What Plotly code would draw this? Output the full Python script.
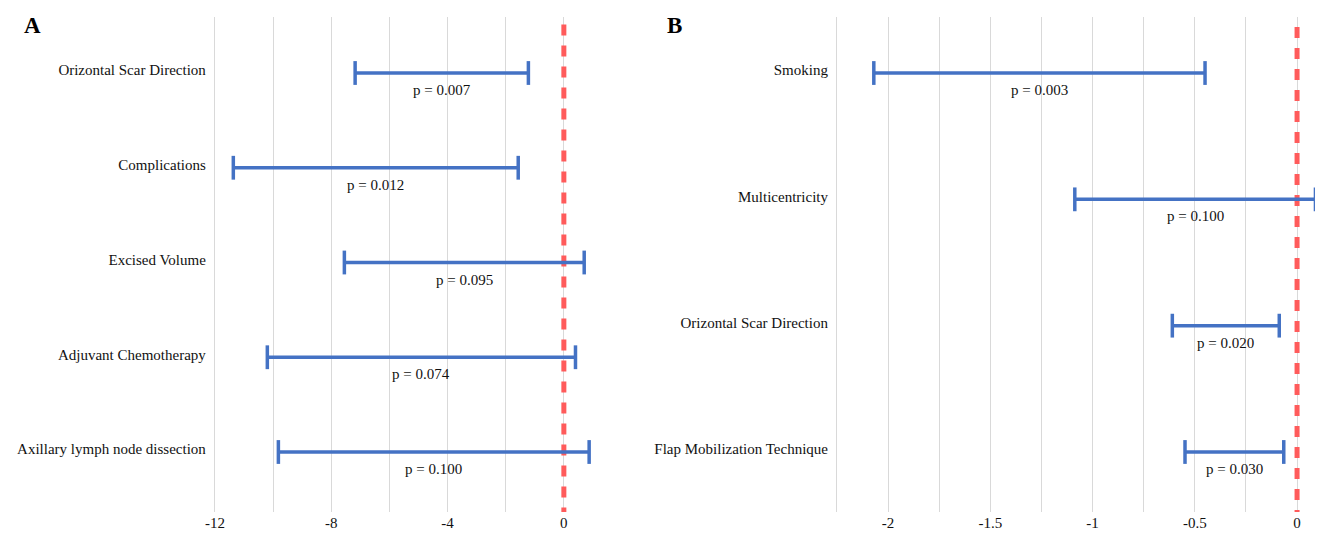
import plotly.graph_objects as go

# ---- Panel A data ----
a_labels = ["Orizontal Scar Direction", "Complications", "Excised Volume",
            "Adjuvant Chemotherapy", "Axillary lymph node dissection"]
a_lower = [-7.18, -11.37, -7.55, -10.20, -9.82]
a_upper = [-1.22, -1.57, 0.70, 0.40, 0.87]
a_pvals = ["p = 0.007", "p = 0.012", "p = 0.095", "p = 0.074", "p = 0.100"]
a_tickvals = [-12, -10, -8, -6, -4, -2, 0, 2]
a_ticktext = ["-12", "", "-8", "", "-4", "", "0", ""]

# ---- Panel B data ----
b_labels = ["Smoking", "Multicentricity", "Orizontal Scar Direction",
            "Flap Mobilization Technique"]
b_lower = [-2.07, -1.087, -0.61, -0.548]
b_upper = [-0.45, 0.09, -0.087, -0.065]
b_pvals = ["p = 0.003", "p = 0.100", "p = 0.020", "p = 0.030"]
b_tickvals = [-2.25, -2, -1.75, -1.5, -1.25, -1, -0.75, -0.5, -0.25, 0]
b_ticktext = ["", "-2", "", "-1.5", "", "-1", "", "-0.5", "", "0"]

# page body has an 8px margin: figure is placed at (8, 8)
OFF = 8
W, H = 1323 - OFF, 536 - OFF
BLUE = "#4472C4"
RED = "#FF5B5B"
FONT = "Liberation Serif"
TXT = "#111111"


def px_x(p):
    return (p - OFF) / W


def px_y(p):
    return 1 - (p - OFF) / H


fig = go.Figure()


def add_panel(labels, lower, upper, pvals, xa, ya, yrange):
    n = len(labels)
    ys = list(range(n))
    # reference dashed line at zero
    fig.add_trace(go.Scatter(
        x=[0, 0], y=[yrange[1] + 0.08, yrange[0]], mode="lines",
        line=dict(color=RED, width=5, dash="11px,10px"),
        xaxis=xa, yaxis=ya, showlegend=False, hoverinfo="skip",
    ))
    for i in range(n):
        fig.add_trace(go.Scatter(
            x=[lower[i], upper[i]], y=[ys[i], ys[i]],
            mode="lines+markers",
            line=dict(color=BLUE, width=3.5),
            marker=dict(symbol="line-ns-open", size=17,
                        line=dict(color=BLUE, width=3.5)),
            xaxis=xa, yaxis=ya, showlegend=False, hoverinfo="skip",
            cliponaxis=False,
        ))
        fig.add_annotation(
            x=(lower[i] + upper[i]) / 2, y=ys[i], xref=xa, yref=ya,
            text=pvals[i], showarrow=False, yshift=-17,
            font=dict(family=FONT, size=15, color=TXT),
        )


ya_range = [4 + 60 / 94.75, -56 / 94.75]
yb_range = [3 + 60 / 126.3, -56 / 126.3]
add_panel(a_labels, a_lower, a_upper, a_pvals, "x", "y", ya_range)
add_panel(b_labels, b_lower, b_upper, b_pvals, "x2", "y2", yb_range)

axis_font = dict(family=FONT, size=15, color=TXT)
xcommon = dict(showgrid=True, gridcolor="#D9D9D9", gridwidth=1, zeroline=False,
               showline=False, ticks="", tickfont=axis_font, tickmode="array",
               ticklabelstandoff=0, automargin=False)
ycommon = dict(showgrid=False, zeroline=False, showline=False, ticks="",
               tickfont=axis_font, tickmode="array", ticklabelstandoff=7,
               ticklabelshift=3, automargin=False)

# small padding so the leftmost grid lines are not on the plot edge
PAD_A = 0.04
PAD_B = 0.005
SCALE_A = (564 - 215) / 12.0
SCALE_B = (1297 - 837) / 2.25

yd = [px_y(512), px_y(17)]
fig.update_layout(
    template="none",
    width=W, height=H,
    margin=dict(l=0, r=0, t=0, b=0, pad=0),
    paper_bgcolor="white", plot_bgcolor="white",
    xaxis=dict(xcommon, domain=[px_x(215 - PAD_A * SCALE_A), px_x(622)],
               range=[-12 - PAD_A, 2],
               tickvals=a_tickvals, ticktext=a_ticktext, anchor="y"),
    yaxis=dict(ycommon, domain=yd, range=ya_range,
               tickvals=list(range(len(a_labels))), ticktext=a_labels,
               anchor="x"),
    xaxis2=dict(xcommon, domain=[px_x(837 - PAD_B * SCALE_B), min(1.0, px_x(1317.5))],
                range=[-2.25 - PAD_B, 0.1],
                tickvals=b_tickvals, ticktext=b_ticktext, anchor="y2"),
    yaxis2=dict(ycommon, domain=yd, range=yb_range,
                tickvals=list(range(len(b_labels))), ticktext=b_labels,
                anchor="x2"),
    showlegend=False,
)

for letter, xp in (("A", 22), ("B", 665)):
    fig.add_annotation(
        x=px_x(xp), y=px_y(25), xref="paper", yref="paper",
        xanchor="left", yanchor="middle", text=f"<b>{letter}</b>",
        showarrow=False, font=dict(family=FONT, size=23, color="#000"),
    )

fig.write_html("out.html")
